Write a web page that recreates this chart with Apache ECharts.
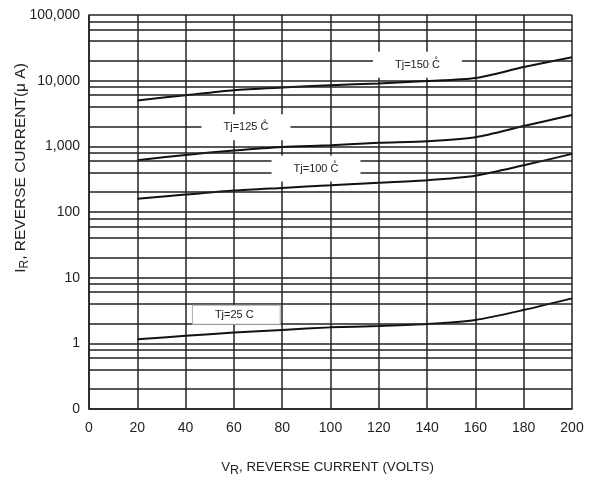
<!DOCTYPE html>
<html>
<head>
<meta charset="UTF-8" />
<title>Reverse current vs voltage</title>
<script src="https://cdn.jsdelivr.net/npm/echarts@6/dist/echarts.min.js"></script>
</head>
<body style="margin:0;background:#fff;">
<div id="main" style="width:599px;height:484px;"></div>
<script type="text/javascript">

    // reverse voltage (V)
    var voltage = [20, 40, 60, 80, 100, 120, 140, 160, 180, 200];

    // reverse current (uA) per junction temperature
    var tj150 = [5000, 6000, 7150, 7870, 8550, 9080, 9860, 11000, 16100, 22700];
    var tj125 = [616, 740, 865, 980, 1036, 1130, 1195, 1380, 2040, 3000];
    var tj100 = [159, 184, 212, 233, 255, 280, 305, 357, 514, 767];
    var tj25  = [1.15, 1.30, 1.46, 1.60, 1.75, 1.84, 1.97, 2.27, 3.22, 4.84];

    // y axis ticks (log) and the text printed for them
    var yTicks = [0.1, 1, 10, 100, 1000, 10000, 100000];
    var yTickLabels = ['0', '1', '10', '100', '1,000', '10,000', '100,000'];

    // extra grid lines inside each decade
    var minorSteps = [2, 4, 6, 8];

    // curve labels: [voltage, current, text, framed]
    var curveLabels = [
        [136, 17500, 'Tj=150 C\u030A', false],
        [65, 1950, 'Tj=125 C\u030A', false],
        [94, 460, 'Tj=100 C\u030A', false],
        [61, 2.73, 'Tj=25 C', true]
    ];

    function pairs(ys){
        var out = [];
        for (var i = 0; i < voltage.length; i++) {
            out.push([voltage[i], ys[i]]);
        }
        return out;
    }

    // minor grid lines as markLines on the log axis
    var minorLines = [];
    for (var d = 0; d < yTicks.length - 1; d++) {
        for (var k = 0; k < minorSteps.length; k++) {
            minorLines.push({ yAxis: yTicks[d] * minorSteps[k] });
        }
    }

    var gridColor = '#222';

    function curve(name, ys, withGrid){
        var s = {
            name: name,
            type: 'line',
            data: pairs(ys),
            symbol: 'none',
            smooth: 0.25,
            lineStyle: { color: '#111', width: 2 },
            z: 3
        };
        if (withGrid) {
            s.markLine = {
                silent: true,
                symbol: ['none', 'none'],
                label: { show: false },
                lineStyle: { color: gridColor, width: 1.5, type: 'solid' },
                emphasis: { disabled: true },
                animation: false,
                data: minorLines
            };
        }
        return s;
    }

    var labelSeries = curveLabels.map(function(l){
        return {
            type: 'scatter',
            data: [[l[0], l[1]]],
            symbolSize: 0,
            silent: true,
            z: 10,
            itemStyle: { opacity: 1 },
            label: {
                show: true,
                position: 'inside',
                formatter: l[2],
                color: '#222',
                fontFamily: 'Liberation Sans',
                fontSize: 11,
                backgroundColor: '#ffffff',
                borderColor: l[3] ? '#aaa' : '#ffffff',
                borderWidth: l[3] ? 1 : 0,
                padding: l[3] ? [4, 26, 3, 22] : [8, 22, 7, 22]
            }
        };
    });

    var option = {
        animation: false,
        backgroundColor: '#fff',
        textStyle: { fontFamily: 'Liberation Sans' },
        grid: { left: 89, right: 27, top: 15, bottom: 75, outerBoundsMode: 'none', containLabel: false },
        xAxis: {
            type: 'value',
            min: 0,
            max: 200,
            interval: 20,
            name: '{n|V}{s|R}{n|, REVERSE CURRENT (VOLTS)}',
            nameLocation: 'middle',
            nameGap: 48,
            nameMoveOverlap: false,
            nameTextStyle: {
                padding: [0, 6, 0, 0],
                rich: {
                    n: { fontSize: 13.3, color: '#222', lineHeight: 20, verticalAlign: 'middle', fontFamily: 'Liberation Sans' },
                    s: { fontSize: 12.5, color: '#222', lineHeight: 12, verticalAlign: 'bottom', fontFamily: 'Liberation Sans' }
                }
            },
            axisLine: { show: true, lineStyle: { color: gridColor, width: 1.5 } },
            axisTick: { show: false },
            axisLabel: { color: '#1f1f1f', fontSize: 14, margin: 12, fontFamily: 'Liberation Sans' },
            splitLine: { show: true, lineStyle: { color: gridColor, width: 1.5 } }
        },
        yAxis: {
            type: 'log',
            logBase: 10,
            min: 0.1,
            max: 100000,
            name: '{n|I}{s|R}{n|, REVERSE CURRENT(\u03BC A)}',
            nameLocation: 'middle',
            nameRotate: 90,
            nameGap: 58,
            nameMoveOverlap: false,
            nameTextStyle: {
                padding: [0, 0, 0, 88],
                rich: {
                    n: { fontSize: 15.5, color: '#222', lineHeight: 20, verticalAlign: 'middle', fontFamily: 'Liberation Sans' },
                    s: { fontSize: 12, color: '#222', lineHeight: 11, verticalAlign: 'bottom', fontFamily: 'Liberation Sans' }
                }
            },
            axisLine: { show: true, lineStyle: { color: gridColor, width: 1.5 } },
            axisTick: { show: false },
            axisLabel: {
                color: '#1f1f1f',
                fontSize: 14,
                margin: 9,
                fontFamily: 'Liberation Sans',
                formatter: function(v){
                    var e = Math.round(Math.log10(v));
                    for (var i = 0; i < yTicks.length; i++) {
                        if (Math.round(Math.log10(yTicks[i])) === e) return yTickLabels[i];
                    }
                    return '';
                }
            },
            splitLine: { show: true, lineStyle: { color: gridColor, width: 1.5 } }
        },
        series: [
            curve('Tj=150', tj150, true),
            curve('Tj=125', tj125, false),
            curve('Tj=100', tj100, false),
            curve('Tj=25', tj25, false)
        ].concat(labelSeries)
    };

    var myChart = echarts.init(document.getElementById('main'));
    myChart.setOption(option);
</script>
</body>
</html>
